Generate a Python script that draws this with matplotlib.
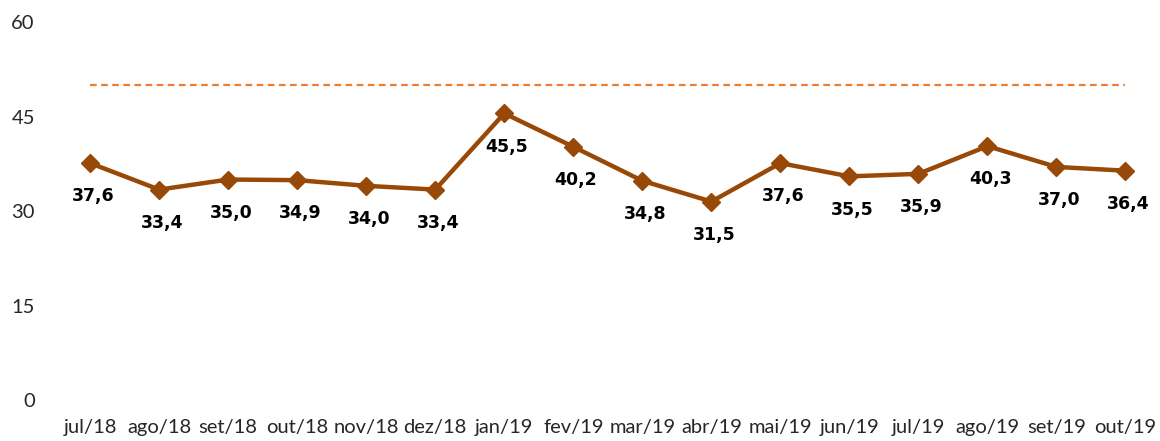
import matplotlib.pyplot as plt

months = ["jul/18", "ago/18", "set/18", "out/18", "nov/18", "dez/18", "jan/19",
          "fev/19", "mar/19", "abr/19", "mai/19", "jun/19", "jul/19", "ago/19",
          "set/19", "out/19"]
values = [37.6, 33.4, 35.0, 34.9, 34.0, 33.4, 45.5, 40.2, 34.8, 31.5, 37.6,
          35.5, 35.9, 40.3, 37.0, 36.4]
reference = 50
y_ticks = [0, 15, 30, 45, 60]

fig = plt.figure(figsize=(11.6, 4.41), dpi=100)
ax = fig.add_axes([0.048, 0.093, 0.952, 0.857])

x = list(range(len(months)))
ax.plot([0, len(months) - 1], [reference, reference], color="#ED7D31",
        linestyle=(0, (3, 2)), linewidth=1.6)
ax.plot(x, values, color="#984807", linewidth=3.2, marker="D",
        markersize=9, zorder=3)

for xi, v in zip(x, values):
    ax.annotate(f"{v:.1f}".replace(".", ","), (xi, v), xytext=(2, -24),
                textcoords="offset points", ha="center", va="center",
                fontsize=12.5, fontweight="bold", color="black",
                family="DejaVu Sans")

ax.set_xlim(-0.5, len(months) - 0.5)
ax.set_ylim(0, 60)
ax.set_yticks(y_ticks)
ax.set_xticks(x)
ax.set_xticklabels(months)
for lab in ax.get_xticklabels() + ax.get_yticklabels():
    lab.set_family("Lato")
    lab.set_fontsize(14.5)
    lab.set_color("#262626")
ax.tick_params(length=0)
ax.tick_params(axis="y", pad=15)
ax.tick_params(axis="x", pad=14)
for s in ax.spines.values():
    s.set_visible(False)

fig.savefig("out.png", dpi=100)
